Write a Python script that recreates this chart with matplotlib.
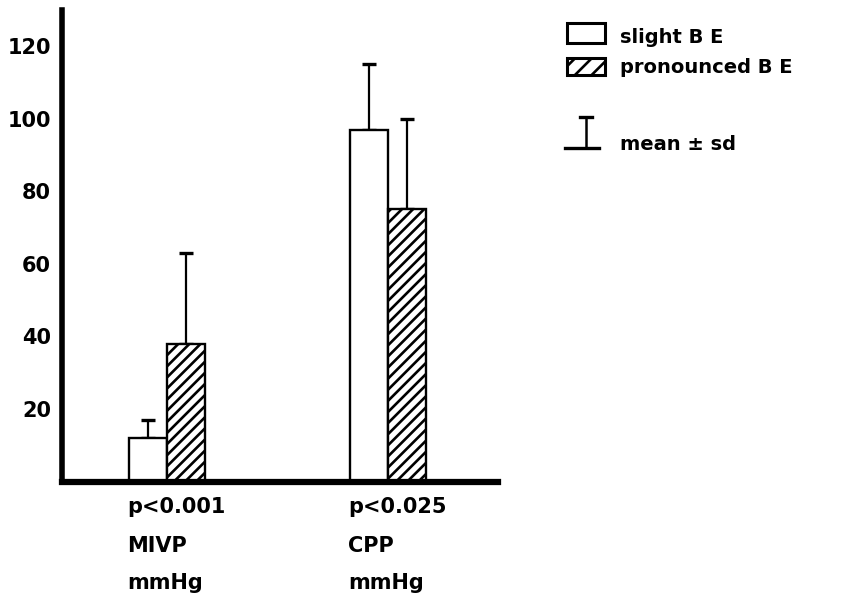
import matplotlib
matplotlib.use("Agg")
import matplotlib.pyplot as plt
import matplotlib.transforms as mtransforms
from matplotlib.patches import Rectangle
import numpy as np

plt.rcParams.update({
    "font.family": "DejaVu Sans",
    "font.weight": "bold",
    "hatch.linewidth": 1.9,
})

# data
groups = ["MIVP", "CPP"]
pvals = ["p<0.001", "p<0.025"]
units = ["mmHg", "mmHg"]
slight_mean = [12, 97]
slight_sd = [5, 18]
pron_mean = [38, 75]
pron_sd = [25, 25]
yticks = [20, 40, 60, 80, 100, 120]

W, H = 843, 598
fig = plt.figure(figsize=(W / 100, H / 100), dpi=100)
ax = fig.add_axes([62 / W, (H - 481.5) / H, 436 / W, 471.5 / H])

x = np.arange(len(groups))
w = 0.172
ax.bar(x - w / 2, slight_mean, w, color="white", edgecolor="black", linewidth=1.7, zorder=2)
ax.bar(x + w / 2, pron_mean, w, color="white", edgecolor="black", linewidth=1.7,
       hatch="///", zorder=2)
ax.errorbar(x - w / 2, slight_mean, yerr=[np.zeros(len(x)), slight_sd], fmt="none",
            ecolor="black", elinewidth=1.6, capsize=5, capthick=2.4, zorder=1)
ax.errorbar(x + w / 2, pron_mean, yerr=[np.zeros(len(x)), pron_sd], fmt="none",
            ecolor="black", elinewidth=1.6, capsize=5, capthick=2.4, zorder=1)

ax.set_xlim(-0.475, 1.498)
ax.set_ylim(0, 130)
ax.set_xticks([])
ax.set_yticks(yticks)
ax.set_yticklabels([str(t) for t in yticks], fontsize=15, fontweight="bold")
ax.tick_params(axis="y", length=0, pad=8)
for s in ["top", "right"]:
    ax.spines[s].set_visible(False)
ax.spines["left"].set_linewidth(4)
ax.spines["bottom"].set_linewidth(4.5)

# category labels below the axis, left aligned with the first bar
trans = mtransforms.blended_transform_factory(ax.transData, fig.transFigure)
baselines = [513, 552, 589]
for i in range(len(groups)):
    lx = x[i] - w * 1.05
    for j, line in enumerate([pvals[i], groups[i], units[i]]):
        ax.text(lx, 1 - baselines[j] / H, line, transform=trans, ha="left", va="baseline",
                fontsize=15, fontweight="bold", clip_on=False)

# hand-drawn key in the upper right
lax = fig.add_axes([0, 0, 1, 1])
lax.set_xlim(0, W)
lax.set_ylim(H, 0)
lax.axis("off")
lax.add_patch(Rectangle((567, 23), 38, 20, facecolor="white", edgecolor="black", linewidth=2.2))
lax.add_patch(Rectangle((567, 58), 38, 17, facecolor="white", edgecolor="black", linewidth=2.2,
                        hatch="//"))
lax.plot([586, 586], [117, 148], color="black", lw=1.8)
lax.plot([580, 592], [117, 117], color="black", lw=2.4)
lax.plot([565, 599], [148, 148], color="black", lw=2.4)
lax.text(620, 43, "slight B E", fontsize=14, fontweight="bold", va="baseline")
lax.text(620, 73, "pronounced B E", fontsize=14, fontweight="bold", va="baseline")
lax.text(620, 150, "mean ± sd", fontsize=14, fontweight="bold", va="baseline")

fig.savefig("out.png", dpi=100)
